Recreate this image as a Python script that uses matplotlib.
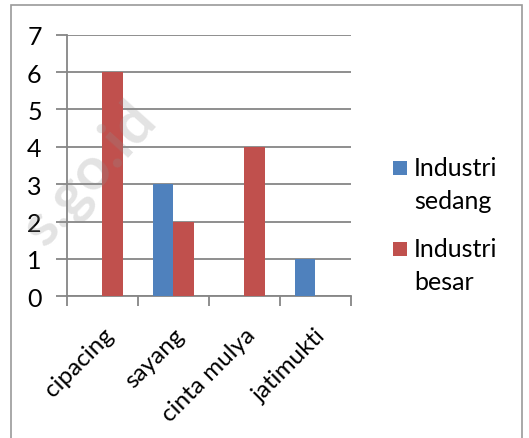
import matplotlib
matplotlib.use("Agg")
import matplotlib.pyplot as plt
import numpy as np
from matplotlib.patches import Rectangle

categories = ["cipacing", "sayang", "cinta mulya", "jatimukti"]
sedang = [0, 3, 0, 1]
besar = [6, 2, 4, 0]
series_names = ["Industri\nsedang", "Industri\nbesar"]
series_colors = ['#4F81BD', '#C0504D']
yticks = [0, 1, 2, 3, 4, 5, 6, 7]

plt.rcParams['font.family'] = ['Lato', 'DejaVu Sans']
W, H = 529, 439
fig = plt.figure(figsize=(W/100, H/100), dpi=100)
fig.patch.set_facecolor('white')

# outer border
fig.patches.append(Rectangle((11/W, -0.05), (522-11)/W, 1.05 - 6/H, transform=fig.transFigure,
                             fill=False, edgecolor='#9a9a9a', linewidth=1.2))

ax = fig.add_axes([66.7/W, 1-297.3/H, (350.7-66.7)/W, (297.3-35.7)/H])
x = np.arange(len(categories))
bw = 0.29
grid_c = '#868686'
ax.bar(x - bw/2, sedang, bw, color=series_colors[0], zorder=3)
ax.bar(x + bw/2, besar, bw, color=series_colors[1], zorder=3)

ax.set_xlim(-0.5, 3.5)
ax.set_ylim(0, 7)
ax.set_yticks(yticks)
ax.yaxis.grid(True, color=grid_c, linewidth=1.3, zorder=0)
ax.set_axisbelow(True)
ax.set_xticks(np.arange(-0.5, 4, 1))
ax.set_xticklabels([])
ax.set_xticks(x, minor=True)
ax.set_xticklabels(categories, minor=True, rotation=45, ha='right', rotation_mode='anchor', fontsize=17.5)
ax.tick_params(axis='x', which='minor', length=0, pad=20)
ax.tick_params(axis='x', which='major', length=7, color=grid_c, width=1.3)
ax.tick_params(axis='y', length=8, color=grid_c, width=1.3, labelsize=18, pad=10)
for s in ['top', 'right']:
    ax.spines[s].set_visible(False)
for s in ['left', 'bottom']:
    ax.spines[s].set_color(grid_c)
    ax.spines[s].set_linewidth(1.3)

# legend (manual, to match first-line aligned markers)
entry_top = [162, 243]
for name, col, top in zip(series_names, series_colors, entry_top):
    fig.patches.append(Rectangle((393/W, 1-(top+14)/H), 14/W, 14/H, transform=fig.transFigure,
                                 facecolor=col, edgecolor='none'))
    for i, line in enumerate(name.split("\n")):
        fig.text(414/W, 1-(top+14+i*33)/H, line, fontsize=18, ha='left', va='baseline', color='black')

# watermark
fig.text(90/W, 1-174/H, "s.go.id", rotation=48, fontsize=43, color='#909090', alpha=0.25,
         ha='center', va='center', fontweight='bold', zorder=10)

fig.savefig("out.png", dpi=100)
